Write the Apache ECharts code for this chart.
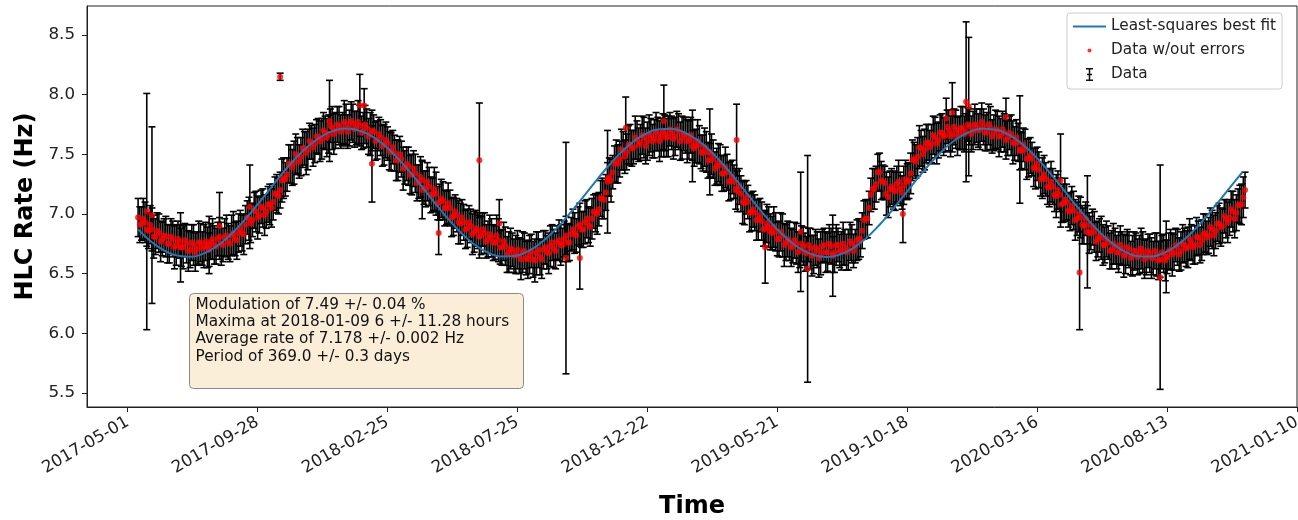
<!DOCTYPE html>
<html>
<head>
<meta charset="utf-8">
<title>HLC Rate</title>
<script src="https://cdn.jsdelivr.net/npm/echarts@6/dist/echarts.min.js"></script>
<style>
  html, body { margin: 0; padding: 0; background: #fff; }
  #chart { width: 1298px; height: 520px; }
</style>
</head>
<body>
<div id="chart"></div>
<script>
// x tick labels (every 150 days)
const tickDates = ['2017-05-01', '2017-09-28', '2018-02-25', '2018-07-25', '2018-12-22',
  '2019-05-21', '2019-10-18', '2020-03-16', '2020-08-13', '2021-01-10'];
const yTickValues = [5.5, 6.0, 6.5, 7.0, 7.5, 8.0, 8.5];

// measured rate: two interleaved runs of readings, every 4 days each
const dataStart = '2017-05-13';
const dataStepDays = 4;
const rateValues = [
  6.97, 6.92, 6.93, 6.86, 6.87, 6.81, 6.84, 6.79, 6.81, 6.75,
  6.79, 6.74, 6.77, 6.72, 6.75, 6.70, 6.74, 6.71, 6.76, 6.73,
  6.72, 6.77, 6.74, 6.79, 6.75, 6.80, 6.77, 6.82, 6.79, 6.84,
  6.84, 6.91, 6.96, 6.95, 7.02, 6.99, 7.05, 7.02, 7.08, 7.10,
  7.17, 7.20, 7.30, 7.33, 7.42, 7.43, 7.49, 7.48, 7.55, 7.54,
  7.60, 7.59, 7.65, 7.63, 7.68, 7.67, 7.72, 7.70, 7.74, 7.71,
  7.75, 7.72, 7.76, 7.72, 7.74, 7.70, 7.72, 7.67, 7.69, 7.62,
  7.64, 7.58, 7.59, 7.52, 7.51, 7.45, 7.46, 7.39, 7.40, 7.33,
  7.34, 7.27, 7.28, 7.21, 7.23, 7.16, 7.17, 7.10, 7.11, 7.05,
  7.05, 6.98, 6.99, 6.92, 6.93, 6.88, 6.90, 6.85, 6.86, 6.82,
  6.84, 6.79, 6.80, 6.76, 6.78, 6.72, 6.73, 6.68, 6.70, 6.66,
  6.65, 6.68, 6.63, 6.66, 6.62, 6.67, 6.64, 6.70, 6.68, 6.73,
  6.71, 6.76, 6.74, 6.79, 6.76, 6.83, 6.84, 6.90, 6.87, 6.93,
  6.91, 6.96, 7.01, 7.04, 7.13, 7.18, 7.31, 7.35, 7.44, 7.46,
  7.53, 7.52, 7.58, 7.56, 7.62, 7.60, 7.64, 7.61, 7.66, 7.63,
  7.67, 7.64, 7.68, 7.65, 7.68, 7.65, 7.69, 7.64, 7.66, 7.62,
  7.62, 7.57, 7.58, 7.51, 7.52, 7.45, 7.46, 7.40, 7.41, 7.34,
  7.35, 7.28, 7.27, 7.19, 7.17, 7.09, 7.10, 7.02, 7.01, 6.95,
  6.94, 6.88, 6.89, 6.84, 6.85, 6.79, 6.82, 6.76, 6.77, 6.73,
  6.75, 6.70, 6.73, 6.67, 6.71, 6.66, 6.70, 6.67, 6.74, 6.68,
  6.73, 6.68, 6.74, 6.69, 6.72, 6.70, 6.75, 6.73, 6.79, 6.86,
  6.96, 7.05, 7.21, 7.25, 7.35, 7.27, 7.17, 7.21, 7.20, 7.25,
  7.21, 7.24, 7.27, 7.34, 7.46, 7.48, 7.55, 7.54, 7.60, 7.59,
  7.64, 7.62, 7.68, 7.66, 7.70, 7.67, 7.71, 7.68, 7.72, 7.69,
  7.73, 7.70, 7.74, 7.71, 7.73, 7.69, 7.72, 7.68, 7.70, 7.66,
  7.68, 7.64, 7.66, 7.59, 7.60, 7.53, 7.54, 7.47, 7.46, 7.38,
  7.37, 7.30, 7.29, 7.22, 7.23, 7.15, 7.16, 7.09, 7.10, 7.02,
  7.03, 6.96, 6.97, 6.90, 6.91, 6.84, 6.85, 6.79, 6.80, 6.74,
  6.76, 6.70, 6.73, 6.68, 6.71, 6.66, 6.70, 6.65, 6.69, 6.66,
  6.68, 6.64, 6.67, 6.63, 6.66, 6.62, 6.67, 6.64, 6.70, 6.68,
  6.72, 6.69, 6.74, 6.72, 6.76, 6.74, 6.80, 6.78, 6.84, 6.82,
  6.87, 6.86, 6.92, 6.90, 6.96, 6.97, 7.02, 7.01, 7.08, 7.14
];
const rateErrors = [
  0.16, 0.14, 0.17, 0.15, 0.18, 0.15, 0.16, 0.14, 0.17, 0.16,
  0.15, 0.17, 0.14, 0.18, 0.16, 0.15, 0.17, 0.14, 0.16, 0.18,
  0.17, 0.15, 0.16, 0.14, 0.18, 0.16, 0.15, 0.17, 0.14, 0.16,
  0.15, 0.16, 0.18, 0.14, 0.17, 0.15, 0.16, 0.14, 0.17, 0.15,
  0.16, 0.15, 0.17, 0.14, 0.16, 0.18, 0.15, 0.16, 0.14, 0.17,
  0.14, 0.16, 0.15, 0.17, 0.14, 0.16, 0.18, 0.15, 0.16, 0.14,
  0.17, 0.15, 0.16, 0.14, 0.17, 0.15, 0.16, 0.18, 0.14, 0.16,
  0.15, 0.17, 0.14, 0.16, 0.15, 0.17, 0.15, 0.14, 0.16, 0.17,
  0.16, 0.14, 0.17, 0.15, 0.16, 0.14, 0.18, 0.15, 0.16, 0.14,
  0.15, 0.16, 0.14, 0.17, 0.15, 0.16, 0.14, 0.17, 0.15, 0.16,
  0.17, 0.15, 0.16, 0.14, 0.18, 0.15, 0.16, 0.17, 0.14, 0.16,
  0.15, 0.17, 0.14, 0.16, 0.15, 0.18, 0.15, 0.16, 0.14, 0.17,
  0.16, 0.14, 0.17, 0.15, 0.16, 0.14, 0.17, 0.16, 0.15, 0.18,
  0.15, 0.17, 0.16, 0.14, 0.17, 0.15, 0.16, 0.14, 0.18, 0.15,
  0.16, 0.15, 0.17, 0.14, 0.16, 0.15, 0.17, 0.16, 0.14, 0.16,
  0.14, 0.16, 0.15, 0.17, 0.14, 0.16, 0.15, 0.18, 0.15, 0.16,
  0.17, 0.14, 0.16, 0.15, 0.17, 0.14, 0.16, 0.15, 0.17, 0.15,
  0.15, 0.16, 0.14, 0.17, 0.15, 0.18, 0.14, 0.16, 0.15, 0.17,
  0.16, 0.15, 0.17, 0.14, 0.16, 0.15, 0.18, 0.15, 0.16, 0.14,
  0.17, 0.15, 0.16, 0.14, 0.17, 0.16, 0.15, 0.18, 0.14, 0.16,
  0.15, 0.17, 0.14, 0.16, 0.15, 0.17, 0.16, 0.14, 0.17, 0.15,
  0.16, 0.14, 0.17, 0.15, 0.16, 0.14, 0.18, 0.15, 0.16, 0.15,
  0.14, 0.16, 0.15, 0.17, 0.14, 0.16, 0.15, 0.17, 0.15, 0.16,
  0.17, 0.15, 0.16, 0.14, 0.17, 0.15, 0.16, 0.14, 0.18, 0.15,
  0.15, 0.16, 0.14, 0.17, 0.15, 0.16, 0.18, 0.15, 0.16, 0.14,
  0.16, 0.15, 0.17, 0.14, 0.16, 0.15, 0.17, 0.16, 0.14, 0.17,
  0.15, 0.17, 0.14, 0.16, 0.15, 0.18, 0.14, 0.16, 0.15, 0.16,
  0.16, 0.14, 0.17, 0.15, 0.16, 0.14, 0.17, 0.15, 0.18, 0.15,
  0.14, 0.16, 0.15, 0.17, 0.14, 0.16, 0.15, 0.17, 0.15, 0.16,
  0.17, 0.15, 0.16, 0.14, 0.18, 0.15, 0.16, 0.14, 0.17, 0.15,
  0.15, 0.16, 0.14, 0.17, 0.15, 0.16, 0.14, 0.17, 0.16, 0.15,
  0.16, 0.15, 0.17, 0.14, 0.16, 0.15, 0.17, 0.15, 0.16, 0.17
];
// second run, offset by 2 days
const dataStartB = '2017-05-15';
const rateValuesB = [
  6.91, 6.96, 6.87, 6.91, 6.81, 6.86, 6.77, 6.82, 6.75, 6.81,
  6.72, 6.79, 6.72, 6.78, 6.69, 6.76, 6.68, 6.76, 6.71, 6.77,
  6.70, 6.79, 6.73, 6.81, 6.74, 6.82, 6.75, 6.84, 6.78, 6.88,
  6.83, 6.97, 6.92, 7.03, 6.97, 7.06, 6.99, 7.08, 7.05, 7.17,
  7.15, 7.28, 7.29, 7.42, 7.39, 7.50, 7.44, 7.55, 7.51, 7.61,
  7.56, 7.65, 7.61, 7.70, 7.64, 7.74, 7.67, 7.75, 7.69, 7.77,
  7.69, 7.78, 7.71, 7.77, 7.68, 7.75, 7.65, 7.70, 7.61, 7.67,
  7.57, 7.62, 7.53, 7.56, 7.45, 7.50, 7.38, 7.42, 7.33, 7.38,
  7.26, 7.31, 7.22, 7.27, 7.16, 7.21, 7.09, 7.13, 7.05, 7.09,
  6.97, 7.02, 6.93, 6.97, 6.87, 6.93, 6.83, 6.88, 6.81, 6.87,
  6.77, 6.83, 6.76, 6.82, 6.72, 6.77, 6.66, 6.71, 6.65, 6.70,
  6.62, 6.69, 6.62, 6.69, 6.61, 6.70, 6.62, 6.72, 6.67, 6.76,
  6.69, 6.78, 6.74, 6.82, 6.76, 6.87, 6.82, 6.91, 6.87, 6.96,
  6.89, 7.02, 7.00, 7.13, 7.12, 7.29, 7.28, 7.42, 7.42, 7.54,
  7.48, 7.58, 7.55, 7.64, 7.58, 7.66, 7.57, 7.66, 7.61, 7.69,
  7.61, 7.69, 7.64, 7.71, 7.63, 7.71, 7.61, 7.67, 7.61, 7.66,
  7.55, 7.61, 7.52, 7.56, 7.45, 7.50, 7.38, 7.43, 7.34, 7.39,
  7.27, 7.31, 7.21, 7.23, 7.10, 7.14, 7.01, 7.04, 6.95, 6.99,
  6.87, 6.92, 6.85, 6.89, 6.79, 6.85, 6.74, 6.79, 6.72, 6.78,
  6.68, 6.75, 6.68, 6.74, 6.65, 6.72, 6.63, 6.73, 6.68, 6.75,
  6.66, 6.74, 6.69, 6.75, 6.68, 6.77, 6.69, 6.78, 6.79, 6.95,
  6.96, 7.16, 7.21, 7.35, 7.28, 7.26, 7.14, 7.23, 7.19, 7.27,
  7.18, 7.29, 7.28, 7.45, 7.44, 7.56, 7.50, 7.59, 7.56, 7.66,
  7.59, 7.68, 7.65, 7.73, 7.65, 7.73, 7.65, 7.72, 7.67, 7.75,
  7.67, 7.75, 7.70, 7.77, 7.68, 7.75, 7.65, 7.71, 7.65, 7.71,
  7.62, 7.68, 7.60, 7.64, 7.53, 7.58, 7.46, 7.49, 7.39, 7.42,
  7.29, 7.33, 7.23, 7.27, 7.16, 7.20, 7.08, 7.12, 7.03, 7.07,
  6.95, 7.00, 6.91, 6.96, 6.84, 6.89, 6.77, 6.82, 6.74, 6.79,
  6.69, 6.75, 6.68, 6.74, 6.65, 6.72, 6.63, 6.69, 6.64, 6.71,
  6.62, 6.69, 6.63, 6.69, 6.61, 6.68, 6.61, 6.69, 6.66, 6.74,
  6.66, 6.75, 6.71, 6.79, 6.72, 6.81, 6.74, 6.83, 6.80, 6.89,
  6.82, 6.92, 6.89, 6.98, 6.93, 7.04, 6.96, 7.07, 7.08, 7.20
];
const rateErrorsB = [
  0.15, 0.17, 0.14, 0.16, 0.18, 0.15, 0.17, 0.14, 0.16, 0.15,
  0.18, 0.15, 0.16, 0.14, 0.17, 0.15, 0.16, 0.18, 0.14, 0.16,
  0.14, 0.17, 0.15, 0.16, 0.14, 0.17, 0.15, 0.18, 0.16, 0.15,
  0.17, 0.14, 0.16, 0.15, 0.18, 0.14, 0.17, 0.15, 0.16, 0.14,
  0.15, 0.18, 0.14, 0.16, 0.15, 0.17, 0.14, 0.16, 0.18, 0.15,
  0.16, 0.14, 0.17, 0.15, 0.16, 0.14, 0.17, 0.15, 0.14, 0.18,
  0.14, 0.16, 0.15, 0.18, 0.14, 0.16, 0.15, 0.17, 0.16, 0.14,
  0.17, 0.15, 0.16, 0.14, 0.17, 0.15, 0.18, 0.14, 0.16, 0.15,
  0.15, 0.17, 0.14, 0.16, 0.15, 0.18, 0.14, 0.16, 0.15, 0.17,
  0.16, 0.14, 0.18, 0.15, 0.16, 0.14, 0.17, 0.15, 0.18, 0.14,
  0.14, 0.16, 0.15, 0.17, 0.14, 0.16, 0.15, 0.17, 0.14, 0.16,
  0.17, 0.15, 0.16, 0.14, 0.18, 0.15, 0.16, 0.14, 0.17, 0.15,
  0.15, 0.17, 0.14, 0.16, 0.15, 0.17, 0.14, 0.18, 0.15, 0.16,
  0.16, 0.14, 0.17, 0.15, 0.16, 0.14, 0.18, 0.15, 0.16, 0.17,
  0.14, 0.16, 0.15, 0.18, 0.14, 0.16, 0.15, 0.17, 0.14, 0.16,
  0.17, 0.15, 0.16, 0.14, 0.17, 0.15, 0.16, 0.14, 0.18, 0.15,
  0.15, 0.18, 0.14, 0.16, 0.15, 0.17, 0.14, 0.16, 0.15, 0.17,
  0.16, 0.14, 0.17, 0.15, 0.18, 0.14, 0.16, 0.15, 0.17, 0.14,
  0.14, 0.16, 0.15, 0.17, 0.14, 0.16, 0.18, 0.15, 0.16, 0.15,
  0.17, 0.15, 0.16, 0.14, 0.17, 0.15, 0.16, 0.14, 0.17, 0.16,
  0.15, 0.17, 0.14, 0.18, 0.15, 0.16, 0.14, 0.17, 0.15, 0.16,
  0.16, 0.14, 0.17, 0.15, 0.16, 0.14, 0.17, 0.15, 0.16, 0.18,
  0.14, 0.16, 0.15, 0.17, 0.14, 0.18, 0.15, 0.16, 0.14, 0.16,
  0.17, 0.15, 0.16, 0.14, 0.17, 0.15, 0.16, 0.18, 0.15, 0.14,
  0.15, 0.17, 0.14, 0.16, 0.15, 0.17, 0.14, 0.16, 0.17, 0.15,
  0.16, 0.14, 0.18, 0.15, 0.16, 0.14, 0.17, 0.15, 0.16, 0.14,
  0.14, 0.16, 0.15, 0.17, 0.14, 0.16, 0.15, 0.18, 0.14, 0.16,
  0.17, 0.15, 0.16, 0.14, 0.17, 0.15, 0.16, 0.14, 0.17, 0.15,
  0.15, 0.17, 0.14, 0.16, 0.18, 0.15, 0.14, 0.16, 0.15, 0.17,
  0.16, 0.14, 0.17, 0.15, 0.16, 0.14, 0.17, 0.15, 0.18, 0.14,
  0.14, 0.16, 0.15, 0.17, 0.14, 0.16, 0.15, 0.17, 0.14, 0.16,
  0.17, 0.15, 0.16, 0.14, 0.17, 0.15, 0.16, 0.14, 0.17, 0.15
];

// isolated readings with big error bars
const outlierDates = ['2017-05-23', '2017-05-29', '2017-07-01', '2017-08-03', '2017-08-15',
  '2017-09-19', '2017-10-24', '2017-12-20', '2018-01-24', '2018-01-29', '2018-02-07',
  '2018-04-06', '2018-04-25', '2018-06-11', '2018-07-04', '2018-09-19', '2018-10-05',
  '2018-11-06', '2018-11-27', '2019-01-10', '2019-02-12', '2019-03-04', '2019-04-04',
  '2019-05-07', '2019-06-17', '2019-06-25', '2019-07-24', '2019-10-13', '2019-12-02',
  '2019-12-09', '2019-12-25', '2019-12-28', '2020-02-09', '2020-02-25', '2020-04-12',
  '2020-05-04', '2020-05-13', '2020-08-05', '2020-08-12'];
const outlierValues = [7.02, 6.99, 6.72, 6.74, 6.90, 7.06, 8.15, 7.78, 7.91, 7.91, 7.42,
  7.20, 6.84, 7.45, 6.92, 6.63, 6.63, 7.27, 7.72, 7.78, 7.57, 7.52, 7.62, 6.72, 6.85,
  6.54, 6.65, 7.00, 7.80, 7.85, 7.94, 7.90, 7.81, 7.54, 7.28, 6.51, 6.85, 6.47, 6.64];
const outlierErrors = [0.99, 0.74, 0.29, 0.24, 0.28, 0.35, 0.03, 0.34, 0.26, 0.14, 0.32,
  0.24, 0.18, 0.48, 0.20, 0.97, 0.26, 0.43, 0.26, 0.30, 0.30, 0.36, 0.30, 0.30, 0.50,
  0.95, 0.34, 0.24, 0.17, 0.25, 0.67, 0.58, 0.16, 0.45, 0.39, 0.48, 0.47, 0.94, 0.30];

// best fit curve, read every 15 days
const fitStart = '2017-05-13';
const fitStepDays = 15;
const fitValues = [
  6.871, 6.769, 6.694, 6.651, 6.641, 6.667, 6.726, 6.814, 6.925, 7.053,
  7.190, 7.325, 7.451, 7.559, 7.642, 7.696, 7.716, 7.700, 7.651, 7.572,
  7.466, 7.342, 7.208, 7.071, 6.942, 6.827, 6.736, 6.673, 6.643, 6.647,
  6.687, 6.758, 6.856, 6.975, 7.107, 7.244, 7.377, 7.497, 7.596, 7.668,
  7.708, 7.714, 7.685, 7.623, 7.532, 7.419, 7.289, 7.153, 7.018, 6.894,
  6.787, 6.707, 6.657, 6.640, 6.659, 6.711, 6.794, 6.901, 7.027, 7.162,
  7.298, 7.427, 7.539, 7.628, 7.688, 7.714, 7.706, 7.664, 7.590, 7.489,
  7.368, 7.235, 7.098, 6.966, 6.849, 6.752, 6.683, 6.646, 6.644, 6.676,
  6.741, 6.834, 6.950, 7.080, 7.217, 7.351
];

const infoLines = [
  'Modulation of 7.49 +/- 0.04 %',
  'Maxima at 2018-01-09 6 +/- 11.28 hours',
  'Average rate of 7.178 +/- 0.002 Hz',
  'Period of 369.0 +/- 0.3 days'
];

// days counted from the first tick
const DAY = 86400000;
const origin = Date.UTC(2017, 4, 1);
function dayOffset(s) {
  const p = s.split('-').map(Number);
  return (Date.UTC(p[0], p[1] - 1, p[2]) - origin) / DAY;
}
function offsetToDate(v) {
  return new Date(origin + Math.round(v) * DAY).toISOString().slice(0, 10);
}

const tickOffsets = tickDates.map(dayOffset);
const startA = dayOffset(dataStart);
const startB = dayOffset(dataStartB);
const points = [];
rateValues.forEach((v, i) => {
  points.push([startA + i * dataStepDays, v, rateErrors[i]]);
  points.push([startB + i * dataStepDays, rateValuesB[i], rateErrorsB[i]]);
});
outlierDates.forEach((d, i) => points.push([dayOffset(d), outlierValues[i], outlierErrors[i]]));
const fit0 = dayOffset(fitStart);
const fitData = fitValues.map((v, i) => [fit0 + i * fitStepDays, v]);

function renderErrorBar(params, api) {
  const x = api.value(0), y = api.value(1), e = api.value(2);
  const top = api.coord([x, y + e]);
  const bot = api.coord([x, y - e]);
  const hw = 3.5;
  const st = { stroke: '#000', lineWidth: 1.6 };
  return {
    type: 'group',
    children: [
      { type: 'line', shape: { x1: top[0], y1: top[1], x2: bot[0], y2: bot[1] }, style: st },
      { type: 'line', shape: { x1: top[0] - hw, y1: top[1], x2: top[0] + hw, y2: top[1] }, style: st },
      { type: 'line', shape: { x1: bot[0] - hw, y1: bot[1], x2: bot[0] + hw, y2: bot[1] }, style: st }
    ]
  };
}

const lineIcon = 'path://M0,0M33,14M0,6.1h33v1.8h-33z';
const dotIcon = 'path://M0,0M33,14M14.5,7a2,2 0 1,0 4,0a2,2 0 1,0 -4,0z';
const barIcon = 'path://M0,0M33,14M15.75,1h1.5v12h-1.5zM13,0.5h7v1.5h-7zM13,12h7v1.5h-7zM14,6.25h5v1.5h-5z';

const chart = echarts.init(document.getElementById('chart'));
chart.setOption({
  animation: false,
  textStyle: { fontFamily: 'DejaVu Sans' },
  grid: {
    left: 87, right: 1, top: 6, bottom: 113,
    containLabel: false, outerBoundsMode: 'none',
    show: true, borderColor: '#222', borderWidth: 1, backgroundColor: 'transparent'
  },
  xAxis: {
    type: 'value', min: -47, max: 1350,
    name: 'Time', nameLocation: 'middle', nameGap: 88,
    nameTextStyle: { fontSize: 24, fontWeight: 'bold', color: '#000', fontFamily: 'DejaVu Sans' },
    axisLine: { show: true, onZero: false, lineStyle: { color: '#222' } },
    axisTick: { show: true, customValues: tickOffsets, length: 5, lineStyle: { color: '#222' } },
    axisLabel: {
      customValues: tickOffsets, rotate: 30, margin: 14, fontSize: 16.7, color: '#222',
      formatter: offsetToDate
    },
    splitLine: { show: false }
  },
  yAxis: {
    type: 'value', min: 5.382, max: 8.743,
    name: 'HLC Rate (Hz)', nameLocation: 'middle', nameGap: 47,
    nameTextStyle: { fontSize: 24, fontWeight: 'bold', color: '#000', fontFamily: 'DejaVu Sans' },
    axisLine: { show: true, onZero: false, lineStyle: { color: '#222' } },
    axisTick: { show: true, customValues: yTickValues, length: 5, lineStyle: { color: '#222' } },
    axisLabel: {
      customValues: yTickValues, margin: 12, fontSize: 16.7, color: '#222',
      formatter: v => v.toFixed(1)
    },
    splitLine: { show: false }
  },
  legend: {
    left: 1067, top: 13, orient: 'vertical',
    padding: [6, 6, 7, 6], itemGap: 9, itemWidth: 33, itemHeight: 14, itemTextGap: 12,
    backgroundColor: 'rgba(255,255,255,0.85)', borderColor: '#cccccc', borderWidth: 1, borderRadius: 3,
    textStyle: { fontSize: 15.3, color: '#222', fontFamily: 'DejaVu Sans' },
    data: [
      { name: 'Least-squares best fit', icon: lineIcon, itemStyle: { color: '#1f77b4' } },
      { name: 'Data w/out errors', icon: dotIcon, itemStyle: { color: 'red' } },
      { name: 'Data', icon: barIcon, itemStyle: { color: '#111' } }
    ]
  },
  graphic: [{
    type: 'group', left: 189, top: 293,
    children: [
      { type: 'rect', shape: { x: 0, y: 0, width: 334, height: 95, r: 4 },
        style: { fill: '#FAEED9', stroke: '#8a8a8a', lineWidth: 1 } },
      { type: 'text', x: 6, y: 3,
        style: { text: infoLines.join('\n'), fontSize: 15.3, fontFamily: 'DejaVu Sans', lineHeight: 17.2, fill: '#111' } }
    ]
  }],
  series: [
    {
      name: 'Data', type: 'custom', z: 1,
      renderItem: renderErrorBar,
      encode: { x: 0, y: 1 },
      itemStyle: { color: '#111' },
      data: points
    },
    {
      name: 'Data w/out errors', type: 'scatter', z: 2,
      symbolSize: 6,
      itemStyle: { color: '#ff0000' },
      data: points.map(p => [p[0], p[1]])
    },
    {
      name: 'Least-squares best fit', type: 'line', z: 3,
      smooth: true, showSymbol: false,
      lineStyle: { color: '#1f77b4', width: 2 },
      itemStyle: { color: '#1f77b4' },
      data: fitData
    }
  ]
});
</script>
</body>
</html>
